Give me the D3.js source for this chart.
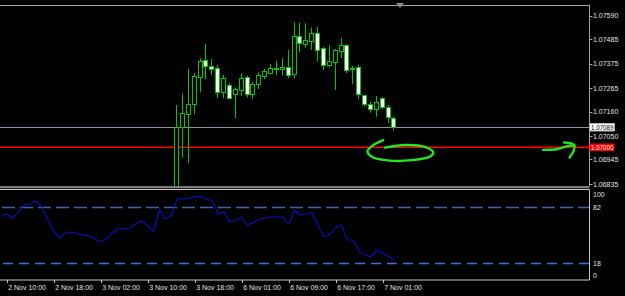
<!doctype html>
<html>
<head>
  <meta charset="utf-8" />
  <script src="https://cdn.jsdelivr.net/npm/d3@7"></script>
  <style>
  body{
    margin: 0;
    background: #000;
    overflow: hidden;
  }
  svg{
    display: block;
    font-family: "Liberation Sans", Arial, sans-serif;
  }
  .lbl{
    fill: #e4e4e4;
    font-size: 7px;
  }
  </style>
</head>
<body>
  <div id="chart"></div>

  <script>
  // price axis labels, as shown on the right
  var priceTicks = [1.06835, 1.06945, 1.07050, 1.07160, 1.07265, 1.07375, 1.07485, 1.07590];

  // time labels, one every 8 H1 bars
  var timeLabels = ["2 Nov 10:00", "2 Nov 18:00", "3 Nov 02:00", "3 Nov 10:00", "3 Nov 18:00",
                    "6 Nov 01:00", "6 Nov 09:00", "6 Nov 17:00", "7 Nov 01:00"];
  var timeLabelBars = [0, 8, 16, 24, 32, 40, 48, 56, 64];

  // candles (bar index of the first one, then OHLC)
  var firstCandleBar = 29;
  var opens  = [1.06790, 1.07088, 1.07150, 1.07193, 1.07316, 1.07390, 1.07364, 1.07354, 1.07245, 1.07279,
                1.07237, 1.07257, 1.07314, 1.07237, 1.07282, 1.07320, 1.07336, 1.07354, 1.07350, 1.07360,
                1.07327, 1.07499, 1.07465, 1.07478, 1.07514, 1.07444, 1.07369, 1.07384, 1.07433, 1.07459,
                1.07352, 1.07359, 1.07234, 1.07194, 1.07170, 1.07219, 1.07179, 1.07131];
  var highs  = [1.07189, 1.07242, 1.07351, 1.07332, 1.07399, 1.07464, 1.07396, 1.07369, 1.07324, 1.07287,
                1.07268, 1.07332, 1.07320, 1.07294, 1.07336, 1.07351, 1.07373, 1.07387, 1.07400, 1.07436,
                1.07560, 1.07559, 1.07556, 1.07537, 1.07538, 1.07451, 1.07459, 1.07441, 1.07491, 1.07461,
                1.07364, 1.07369, 1.07235, 1.07204, 1.07230, 1.07224, 1.07189, 1.07137];
  var lows   = [1.06760, 1.06953, 1.06928, 1.07149, 1.07249, 1.07305, 1.07323, 1.07219, 1.07219, 1.07215,
                1.07130, 1.07231, 1.07223, 1.07216, 1.07261, 1.07305, 1.07334, 1.07324, 1.07324, 1.07311,
                1.07309, 1.07425, 1.07446, 1.07437, 1.07384, 1.07346, 1.07358, 1.07257, 1.07400, 1.07332,
                1.07284, 1.07215, 1.07182, 1.07155, 1.07137, 1.07170, 1.07110, 1.07074];
  var closes = [1.07092, 1.07152, 1.07193, 1.07318, 1.07387, 1.07361, 1.07352, 1.07248, 1.07309, 1.07221,
                1.07260, 1.07312, 1.07238, 1.07282, 1.07324, 1.07342, 1.07357, 1.07355, 1.07361, 1.07326,
                1.07499, 1.07466, 1.07481, 1.07512, 1.07439, 1.07369, 1.07387, 1.07436, 1.07459, 1.07346,
                1.07355, 1.07239, 1.07193, 1.07170, 1.07203, 1.07177, 1.07134, 1.07089];

  // horizontal lines
  var bidPrice = 1.07089;
  var levelPrice = 1.07000;

  // oscillator (lower pane), starts one bar before the first time label
  var oscFirstBar = -1;
  var oscValues = [71.4, 74.3, 69.7, 76.6, 84.6, 85.7, 89.1, 82.3, 67.4, 54.9,
                   46.9, 52.6, 53.7, 52.0, 50.3, 49.5, 45.7, 42.9, 45.7, 52.6,
                   58.3, 57.1, 58.3, 63.4, 66.3, 60.6, 54.9, 79.4, 69.1, 72.0,
                   91.4, 91.4, 92.2, 94.1, 94.1, 91.4, 89.1, 74.5, 76.6, 65.7,
                   67.4, 70.5, 61.7, 64.6, 68.3, 69.7, 70.9, 70.9, 70.3, 62.5,
                   78.9, 73.1, 74.3, 75.8, 61.7, 48.3, 51.4, 58.3, 61.7, 44.6,
                   44.6, 31.2, 27.4, 25.5, 32.3, 29.4, 25.5, 21.4];
  var oscLevels = [82, 18];
  var oscLabels = ["100", "82", "18", "0"];

  // hand drawn marks, in (bar, price)
  var circleMark = [[64.1, 1.07032], [62.7, 1.07014], [61.4, 1.06982], [62.3, 1.06955], [65.2, 1.06940],
                    [69.0, 1.06942], [72.0, 1.06957], [72.6, 1.06976], [71.2, 1.07001], [67.8, 1.07010],
                    [64.4, 1.06998]];
  var arrowShaft = [[91.3, 1.06988], [93.6, 1.06991], [95.3, 1.07004], [96.6, 1.07009]];
  var arrowHead  = [[94.9, 1.07021], [96.6, 1.07010], [96.5, 1.06985], [95.8, 1.06954]];

  var width = 625, height = 296;
  var paneRight = 589.5;
  var mainTop = 5, mainBottom = 186;
  var subTop = 189.5, subBottom = 280;

  var svg = d3.select("#chart").append("svg")
    .attr("width", width)
    .attr("height", height);

  svg.append("rect").attr("width", width).attr("height", height).attr("fill", "#000");

  var x = d3.scaleLinear().domain([0, 64]).range([6.7, 6.7 + 64 * 5.875]);
  var y = d3.scaleLinear().domain([1.06835, 1.07590]).range([184, 15.7]);
  var yOsc = d3.scaleLinear().domain([0, 100]).range([279, 191.5]);

  var defs = svg.append("defs");
  defs.append("clipPath").attr("id", "mainClip")
    .append("rect").attr("x", 0).attr("y", mainTop).attr("width", paneRight).attr("height", mainBottom - mainTop);
  defs.append("clipPath").attr("id", "subClip")
    .append("rect").attr("x", 0).attr("y", subTop).attr("width", paneRight).attr("height", subBottom - subTop);

  // ---- main pane
  var main = svg.append("g").attr("clip-path", "url(#mainClip)");

  main.append("line")
    .attr("x1", 0).attr("x2", paneRight)
    .attr("y1", Math.round(y(bidPrice)) + 0.5).attr("y2", Math.round(y(bidPrice)) + 0.5)
    .attr("stroke", "#8796a6");
  main.append("line")
    .attr("x1", 0).attr("x2", paneRight)
    .attr("y1", y(levelPrice)).attr("y2", y(levelPrice))
    .attr("stroke", "#ff0000").attr("stroke-width", 1.4);

  var candles = opens.map(function(o, i){
    return {bar: firstCandleBar + i, o: o, h: highs[i], l: lows[i], c: closes[i]};
  });

  var green = "#00c800";
  var cg = main.selectAll("g.candle").data(candles).enter().append("g").attr("class", "candle");
  cg.append("line")
    .attr("x1", function(d){ return Math.round(x(d.bar)) - 0.5; })
    .attr("x2", function(d){ return Math.round(x(d.bar)) - 0.5; })
    .attr("y1", function(d){ return y(d.h); })
    .attr("y2", function(d){ return y(d.l); })
    .attr("stroke", green);
  cg.append("rect")
    .attr("x", function(d){ return Math.round(x(d.bar)) - 2.5; })
    .attr("width", 4)
    .attr("y", function(d){ return Math.round(y(Math.max(d.o, d.c))) + 0.5; })
    .attr("height", function(d){ return Math.max(1, Math.round(Math.abs(y(d.o) - y(d.c)))); })
    .attr("fill", function(d){ return d.c < d.o ? "#ffffff" : "#000000"; })
    .attr("stroke", green);

  // hand drawn annotation
  var markLine = d3.line()
    .x(function(d){ return x(d[0]); })
    .y(function(d){ return y(d[1]); })
    .curve(d3.curveCatmullRom);
  [circleMark, arrowShaft, arrowHead].forEach(function(m){
    main.append("path").attr("d", markLine(m))
      .attr("fill", "none").attr("stroke", "#22e622").attr("stroke-width", 2.4)
      .attr("stroke-linecap", "round").attr("stroke-linejoin", "round");
  });

  // frame of main pane
  svg.append("line").attr("x1", 0).attr("x2", paneRight).attr("y1", mainTop + 0.5).attr("y2", mainTop + 0.5).attr("stroke", "#a8a8a8");
  svg.append("line").attr("x1", paneRight).attr("x2", paneRight).attr("y1", mainTop).attr("y2", mainBottom).attr("stroke", "#a8a8a8");
  svg.append("path").attr("d", "M396,3 L404,3 L400,8 Z").attr("fill", "#8c8c8c");

  // price scale
  var pg = svg.append("g");
  pg.selectAll("line").data(priceTicks).enter().append("line")
    .attr("x1", paneRight).attr("x2", paneRight + 3)
    .attr("y1", function(d){ return Math.round(y(d)) + 0.5; })
    .attr("y2", function(d){ return Math.round(y(d)) + 0.5; })
    .attr("stroke", "#a8a8a8");
  pg.selectAll("text").data(priceTicks).enter().append("text")
    .attr("class", "lbl")
    .attr("x", 593)
    .attr("y", function(d){ return y(d); })
    .attr("dy", "0.36em")
    .text(function(d){ return d.toFixed(5); });

  // price tags of the two lines
  [[bidPrice, "#ffffff", "#000000"], [levelPrice, "#ff0000", "#ffe8e8"]].forEach(function(t){
    var yy = Math.round(y(t[0]));
    svg.append("rect").attr("x", paneRight).attr("y", yy - 3.5).attr("width", 25).attr("height", 7.5)
      .attr("fill", t[1]).attr("stroke", t[1] == "#ffffff" ? "#b0b0b0" : "none");
    svg.append("text").attr("class", "lbl").attr("x", 591).attr("y", yy + 0.3).attr("dy", "0.36em")
      .attr("textLength", 22.5).attr("lengthAdjust", "spacingAndGlyphs")
      .style("fill", t[2]).text(t[0].toFixed(5));
  });

  // pane separator
  svg.append("rect").attr("x", 0).attr("y", mainBottom).attr("width", paneRight).attr("height", 2.3).attr("fill", "#7c7c7c");

  // ---- lower pane
  var sub = svg.append("g").attr("clip-path", "url(#subClip)");

  sub.append("line")
    .attr("x1", 0).attr("x2", paneRight)
    .attr("y1", Math.round(yOsc(oscLevels[0])) + 0.5).attr("y2", Math.round(yOsc(oscLevels[0])) + 0.5)
    .attr("stroke", "#3a64a8").attr("stroke-width", 1.3).attr("stroke-dasharray", "13,5")
    .attr("stroke-dashoffset", -2);
  sub.append("line")
    .attr("x1", 0).attr("x2", paneRight)
    .attr("y1", Math.round(yOsc(oscLevels[1])) + 0.5).attr("y2", Math.round(yOsc(oscLevels[1])) + 0.5)
    .attr("stroke", "#3a74e0").attr("stroke-width", 1.3).attr("stroke-dasharray", "10,6")
    .attr("stroke-dashoffset", -3);

  var oscLine = d3.line()
    .x(function(d, i){ return x(oscFirstBar + i); })
    .y(function(d){ return yOsc(d); });
  sub.append("path").attr("d", oscLine(oscValues))
    .attr("fill", "none").attr("stroke", "#0c0cc8").attr("stroke-width", 1.1);

  svg.append("path")
    .attr("d", "M0," + subTop + " L" + paneRight + "," + subTop + " L" + paneRight + "," + subBottom + " L0," + subBottom)
    .attr("fill", "none").attr("stroke", "#c8c8c8");

  var oscLabelY = [194.5, yOsc(82) + 0.5, yOsc(18) + 0.5, 275];
  svg.selectAll("text.osc").data(oscLabels).enter().append("text")
    .attr("class", "lbl osc")
    .attr("x", 593)
    .attr("y", function(d, i){ return oscLabelY[i]; })
    .attr("dy", "0.36em")
    .text(function(d){ return d; });

  // ---- time axis
  var tg = svg.append("g");
  tg.selectAll("line").data(timeLabelBars).enter().append("line")
    .attr("x1", function(d){ return Math.round(x(d)) + 0.5; })
    .attr("x2", function(d){ return Math.round(x(d)) + 0.5; })
    .attr("y1", subBottom).attr("y2", subBottom + 3)
    .attr("stroke", "#c8c8c8");
  tg.selectAll("text").data(timeLabelBars).enter().append("text")
    .attr("class", "lbl")
    .attr("x", function(d){ return x(d) + 1.5; })
    .attr("y", 289.5)
    .text(function(d, i){ return timeLabels[i]; });
  </script>
</body>
</html>
